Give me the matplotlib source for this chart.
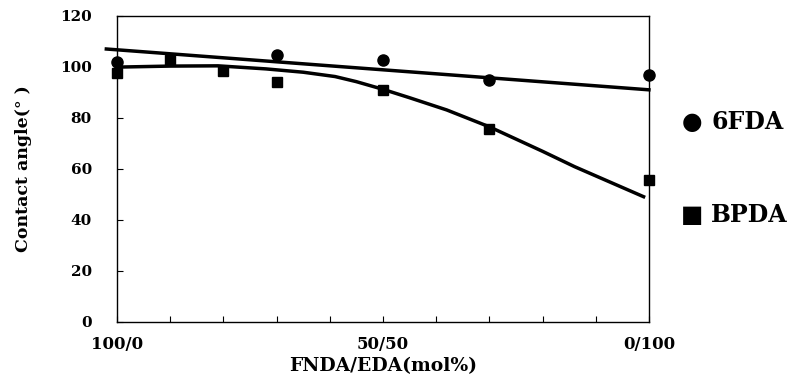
import numpy as np
import matplotlib.pyplot as plt

plt.rcParams['font.family'] = ['DejaVu Serif']
plt.rcParams['font.weight'] = 'bold'

# composition (FNDA mol%, from 100/0 to 0/100)
x6 = [0, 30, 50, 70, 100]
fda6 = [101.8, 104.7, 102.7, 94.9, 96.9]
xb = [0, 10, 20, 30, 50, 70, 100]
bpda = [97.6, 102.5, 98.2, 94.2, 91, 75.7, 55.7]

# hand-drawn trend lines
fit6_x = [-2, 100]
fit6_y = [107, 91]
fitb_x = [0, 10, 19, 28, 35, 41, 45, 50, 55, 62, 70, 80, 86, 99]
fitb_y = [99.9, 100.3, 100.4, 99.2, 97.9, 96.2, 94.2, 91.2, 87.9, 83.1, 76.5, 66.9, 60.9, 49.1]

xtick_pos = [0, 50, 100]
xtick_lab = ["100/0", "50/50", "0/100"]

fig = plt.figure(figsize=(8.09, 3.77), dpi=100)
ax = fig.add_axes([0.1446, 0.146, 0.6575, 0.812])

ax.plot(fit6_x, fit6_y, color='black', lw=2.5, clip_on=False)
ax.plot(fitb_x, fitb_y, color='black', lw=2.5)
ax.plot(x6, fda6, 'o', color='black', ms=8, clip_on=False)
ax.plot(xb, bpda, 's', color='black', ms=7.5, clip_on=False)

ax.set_xlim(0, 100)
ax.set_ylim(0, 120)
ax.set_yticks(range(0, 121, 20))
ax.set_xticks(xtick_pos)
ax.set_xticklabels(xtick_lab)
ax.set_xticks(range(0, 101, 10), minor=True)
ax.tick_params(direction='in', length=4, width=0.8)
ax.tick_params(which='minor', direction='in', length=4, width=0.8)
ax.tick_params(axis='x', labelsize=12, pad=10)
ax.tick_params(axis='y', labelsize=11, pad=18)
for s in ax.spines.values():
    s.set_linewidth(1.0)

ax.set_xlabel("FNDA/EDA(mol%)", fontsize=13.5, fontweight='bold', labelpad=3)
ax.set_ylabel("Contact angle(° )", fontsize=12.5, fontweight='bold', labelpad=20)

# legend outside on the right
fig.text(0.855, 0.676, "●", fontsize=17, ha='center', va='center', family='DejaVu Sans')
fig.text(0.879, 0.676, "6FDA", fontsize=17, fontweight='bold', va='center')
fig.text(0.855, 0.43, "■", fontsize=17, ha='center', va='center', family='DejaVu Sans')
fig.text(0.879, 0.43, "BPDA", fontsize=17, fontweight='bold', va='center')

fig.savefig("out.png", dpi=100)
